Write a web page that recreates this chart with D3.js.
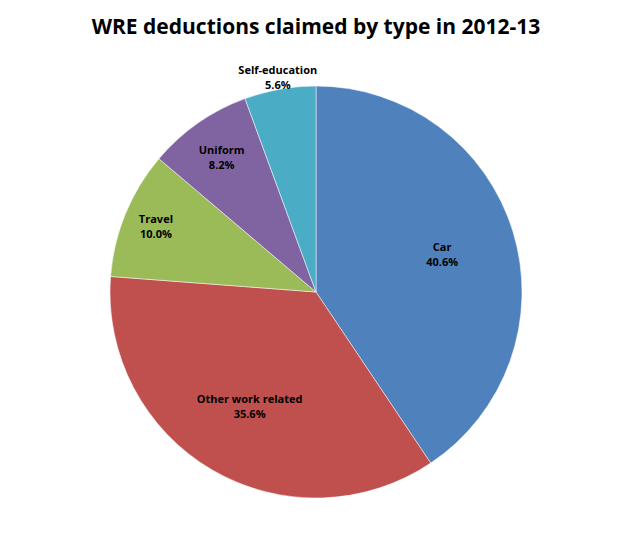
<!DOCTYPE html>
<html>
<head>
<meta charset="utf-8">
<script src="https://cdn.jsdelivr.net/npm/d3@7"></script>
<style>
  body { margin: 0; background: #fff; }
  text { font-family: "Open Sans", "Liberation Sans", sans-serif; }
</style>
</head>
<body>
<div id="chart"></div>
<script>
const categories = ["Car", "Other work related", "Travel", "Uniform", "Self-education"];
const shares = [40.6, 35.6, 10.0, 8.2, 5.6];
const colors = ["#4F81BD", "#C0504D", "#9BBB59", "#8064A2", "#4BACC6"];
// how far out each label sits, as a fraction of the radius
const labelRadius = [0.64, 0.64, 0.84, 0.8, 1.06];

const width = 632, height = 544;
const cx = 316, cy = 292, r = 206;

const svg = d3.select("#chart").append("svg")
  .attr("width", width).attr("height", height);

svg.append("text")
  .attr("x", width / 2).attr("y", 34)
  .attr("text-anchor", "middle")
  .style("font-size", "21px").style("font-weight", "bold")
  .text("WRE deductions claimed by type in 2012-13");

const pie = d3.pie().sort(null).value(d => d);
const arcs = pie(shares);
const arc = d3.arc().innerRadius(0).outerRadius(r);

const g = svg.append("g").attr("transform", `translate(${cx},${cy})`);

g.selectAll("path").data(arcs).enter().append("path")
  .attr("d", arc)
  .attr("fill", (d, i) => colors[i])
  .attr("stroke", "#fff").attr("stroke-width", 0.5);

const labels = g.selectAll("g.lbl").data(arcs).enter().append("g")
  .attr("class", "lbl")
  .attr("transform", (d, i) => {
    const a = (d.startAngle + d.endAngle) / 2;
    const rr = r * labelRadius[i];
    return `translate(${rr * Math.sin(a)},${-rr * Math.cos(a)})`;
  });

labels.append("text")
  .attr("text-anchor", "middle").attr("y", -3)
  .style("font-size", "11px").style("font-weight", "bold")
  .text((d, i) => categories[i]);
labels.append("text")
  .attr("text-anchor", "middle").attr("y", 12)
  .style("font-size", "11px").style("font-weight", "bold")
  .text((d, i) => shares[i].toFixed(1) + "%");
</script>
</body>
</html>
